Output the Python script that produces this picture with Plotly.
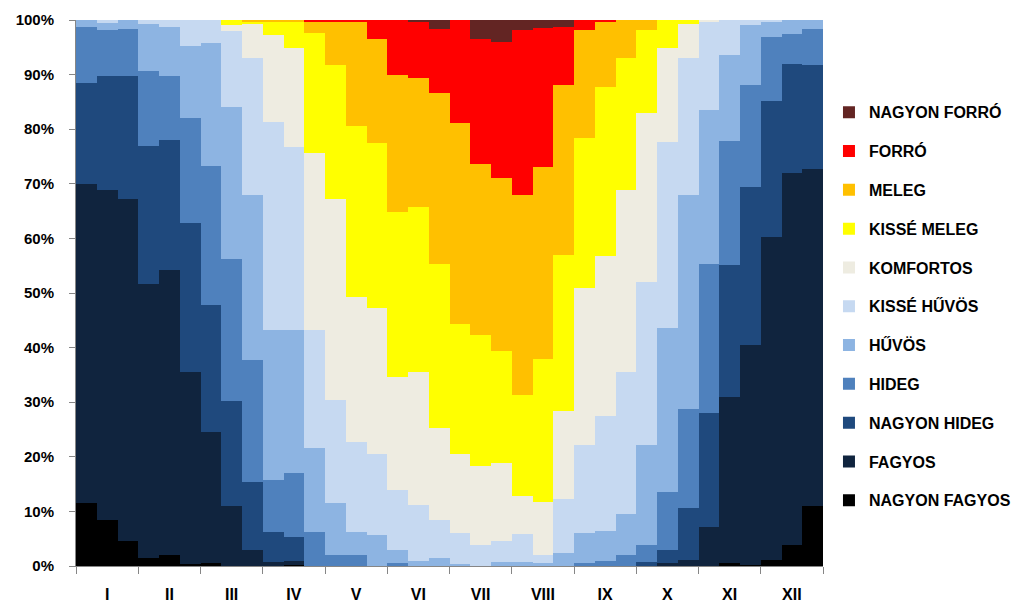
import plotly.graph_objects as go

months = ["I", "II", "III", "IV", "V", "VI", "VII", "VIII", "IX", "X", "XI", "XII"]
dekads = [f"{m}.{d}" for m in months for d in (1, 2, 3)]
y_ticks = list(range(0, 101, 10))
y_tick_labels = [f"{v}%" for v in y_ticks]

nagyon_fagyos = [11.5, 8.4, 4.5, 1.5, 2.1, 0.3, 0.5, 0, 0,
                 0, 0.2, 0, 0, 0, 0, 0, 0, 0,
                 0, 0, 0, 0, 0, 0, 0, 0, 0,
                 0, 0, 0, 0, 0.5, 0.2, 1.1, 3.8, 10.9]
fagyos = [58.5, 60.4, 62.8, 50.1, 52.2, 35.3, 24.1, 10.9, 3.0,
          0.8, 0.8, 0, 0, 0, 0, 0, 0, 0,
          0, 0, 0, 0, 0, 0, 0, 0, 0,
          0, 0.5, 1.1, 7.2, 30.4, 40.3, 59.2, 68.1, 61.9]
nagyon_hideg = [18.5, 20.9, 22.4, 25.4, 23.7, 27.2, 23.2, 19.3, 12.4,
                5.5, 4.4, 0, 0, 0, 0, 0, 0, 0,
                0, 0, 0, 0, 0, 0, 0, 0, 0,
                0.8, 2.4, 9.5, 20.8, 24.2, 29.0, 24.9, 20.0, 19.0]
hideg = [10.2, 8.4, 8.6, 13.7, 11.8, 19.2, 25.5, 26.0, 22.3,
         9.5, 11.7, 6.3, 2.0, 2.0, 0, 0.6, 0, 0,
         0, 0, 0, 0, 0, 0, 0.5, 1.0, 2.0,
         3.0, 10.7, 18.1, 27.4, 22.7, 18.6, 11.6, 5.5, 6.6]
huvos = [1.3, 1.4, 1.7, 8.6, 9.0, 13.3, 22.4, 27.8, 30.3,
         27.4, 26.1, 15.3, 9.5, 4.3, 5.7, 2.3, 1.0, 1.5,
         0.3, 0, 0.8, 0.8, 0.5, 2.3, 5.5, 5.5, 7.5,
         18.4, 29.9, 39.2, 28.1, 15.8, 11.0, 2.8, 2.6, 1.6]
kisse_huvos = [0, 0.5, 0, 0.7, 1.2, 4.7, 4.3, 13.9, 25.1,
               38.2, 33.6, 21.7, 18.9, 16.5, 14.9, 11.0, 10.2, 6.9,
               5.8, 3.8, 3.7, 5.0, 1.5, 9.9, 16.2, 20.9, 26.1,
               29.9, 34.2, 25.1, 16.1, 6.4, 0.9, 0.4, 0, 0]
komfortos = [0, 0, 0, 0, 0, 0, 0, 1.1, 6.1,
             15.9, 18.0, 32.3, 36.9, 26.5, 26.6, 20.8, 24.4, 16.8,
             14.5, 14.5, 14.3, 7.0, 9.8, 16.1, 28.7, 29.3, 33.3,
             30.8, 17.1, 6.2, 0.4, 0, 0, 0, 0, 0]
kisse_meleg = [0, 0, 0, 0, 0, 0, 0, 1.0, 0.4,
               2.3, 4.8, 22.0, 24.5, 31.2, 30.2, 30.2, 30.2, 30.2,
               23.8, 24.0, 20.6, 18.5, 26.2, 28.7, 27.4, 31.1, 24.1,
               15.3, 5.2, 0.8, 0, 0, 0, 0, 0, 0]
meleg = [0, 0, 0, 0, 0, 0, 0, 0, 0.4,
         0.4, 0.4, 2.1, 7.8, 19.2, 19.2, 25.0, 23.5, 31.2,
         36.7, 31.4, 31.6, 36.6, 35.1, 31.1, 19.9, 11.8, 7.0,
         1.8, 0, 0, 0, 0, 0, 0, 0, 0]
forro = [0, 0, 0, 0, 0, 0, 0, 0, 0,
         0, 0, 0.3, 0.4, 0.3, 3.4, 10.1, 10.3, 11.8,
         18.9, 22.9, 24.9, 30.3, 25.5, 10.7, 1.8, 0.4, 0,
         0, 0, 0, 0, 0, 0, 0, 0, 0]
nagyon_forro = [0, 0, 0, 0, 0, 0, 0, 0, 0,
                0, 0, 0, 0, 0, 0, 0, 0.4, 1.6,
                0, 3.4, 4.1, 1.8, 1.4, 1.2, 0, 0, 0,
                0, 0, 0, 0, 0, 0, 0, 0, 0]

series = [
    ("NAGYON FAGYOS", nagyon_fagyos, "#000000"),
    ("FAGYOS", fagyos, "#10243E"),
    ("NAGYON HIDEG", nagyon_hideg, "#1F497D"),
    ("HIDEG", hideg, "#4F81BD"),
    ("HŰVÖS", huvos, "#8DB4E2"),
    ("KISSÉ HŰVÖS", kisse_huvos, "#C6D9F1"),
    ("KOMFORTOS", komfortos, "#EEECE1"),
    ("KISSÉ MELEG", kisse_meleg, "#FFFF00"),
    ("MELEG", meleg, "#FFC000"),
    ("FORRÓ", forro, "#FF0000"),
    ("NAGYON FORRÓ", nagyon_forro, "#632523"),
]

x = list(range(len(dekads)))
fig = go.Figure()
n = len(series)
for i, (name, vals, col) in enumerate(series):
    fig.add_trace(go.Bar(
        x=x, y=vals, name=name, customdata=dekads,
        marker=dict(color=col, line=dict(width=0)),
        legendgroup=str(i), legendrank=n - i,
        hovertemplate="%{customdata}: %{y:.1f}<extra>" + name + "</extra>",
    ))

month_centers = [3 * i + 1 for i in range(12)]
month_bounds = [3 * i - 0.5 for i in range(13)]
font_family = "Liberation Sans, Arial, sans-serif"

fig.update_layout(
    width=1024, height=615,
    barmode="stack", barnorm="percent", bargap=0,
    paper_bgcolor="white", plot_bgcolor="white",
    margin=dict(l=68, r=209, t=12, b=57, autoexpand=False),
    font=dict(family=font_family, size=16, color="black"),
    legend=dict(
        traceorder="grouped", x=1.008, xanchor="left", y=0.862, yanchor="top",
        font=dict(size=16, weight="bold", color="black"),
        tracegroupgap=15, itemwidth=30, bgcolor="rgba(0,0,0,0)",
    ),
    xaxis=dict(
        range=[-0.5, 35.5], tickmode="array", tickvals=month_centers, ticktext=months,
        ticks="", showline=True, linecolor="#868686", linewidth=1, automargin=False,
        showgrid=False, zeroline=False, ticklabelstandoff=14,
        tickfont=dict(size=16, weight="bold", color="black"),
        minor=dict(tickmode="array", tickvals=month_bounds, ticks="outside",
                   ticklen=7, tickcolor="#868686", showgrid=False),
    ),
    yaxis=dict(
        range=[0, 100], tickmode="array", tickvals=y_ticks, ticktext=y_tick_labels,
        ticks="outside", ticklen=6, tickcolor="#868686", automargin=False,
        showline=True, linecolor="#868686", linewidth=1,
        showgrid=False, zeroline=False, ticklabelstandoff=12,
        tickfont=dict(size=15, weight="bold", color="black"),
    ),
)

fig.write_html("out.html")
